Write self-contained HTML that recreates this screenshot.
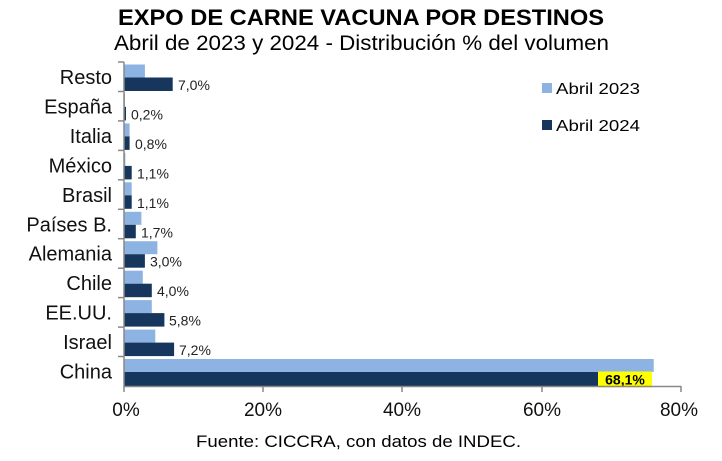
<!DOCTYPE html>
<html><head><meta charset="utf-8"><style>body{margin:0;background:#fff}svg{display:block}</style></head><body>
<svg width="722" height="461" xmlns="http://www.w3.org/2000/svg" font-family="Liberation Sans, Arial, sans-serif">
<text x="118" y="25" font-size="22" font-weight="bold" textLength="486" lengthAdjust="spacingAndGlyphs">EXPO DE CARNE VACUNA POR DESTINOS</text>
<text x="114" y="50" font-size="21" textLength="495" lengthAdjust="spacingAndGlyphs">Abril de 2023 y 2024 - Distribución % del volumen</text>

<g fill="#8db3e2">
<rect x="124" y="64.5" width="20.9" height="13"/>
<rect x="124" y="93.9" width="1" height="13"/>
<rect x="124" y="123.4" width="5.6" height="13"/>
<rect x="124" y="152.9" width="1.4" height="13"/>
<rect x="124" y="182.3" width="7.7" height="13"/>
<rect x="124" y="211.8" width="17.4" height="13"/>
<rect x="124" y="241.2" width="33.4" height="13"/>
<rect x="124" y="270.7" width="18.8" height="13"/>
<rect x="124" y="300.1" width="27.8" height="13"/>
<rect x="124" y="329.6" width="31.3" height="13"/>
<rect x="124" y="359" width="529.7" height="13"/>
</g>
<g fill="#17365d">
<rect x="124" y="77.5" width="48.7" height="13.5"/>
<rect x="124" y="106.9" width="2" height="13.5"/>
<rect x="124" y="136.4" width="5.6" height="13.5"/>
<rect x="124" y="165.9" width="7.7" height="13.5"/>
<rect x="124" y="195.3" width="7.7" height="13.5"/>
<rect x="124" y="224.8" width="11.8" height="13.5"/>
<rect x="124" y="254.2" width="20.9" height="13.5"/>
<rect x="124" y="283.7" width="27.8" height="13.5"/>
<rect x="124" y="313.1" width="40.4" height="13.5"/>
<rect x="124" y="342.6" width="50.1" height="13.5"/>
<rect x="124" y="372" width="474" height="14"/>
</g>
<g font-size="14" fill="#222">
<text x="178" y="90">7,0%</text>
<text x="131" y="119.5">0,2%</text>
<text x="135" y="149">0,8%</text>
<text x="137" y="178.4">1,1%</text>
<text x="137" y="207.8">1,1%</text>
<text x="141" y="237.3">1,7%</text>
<text x="150" y="266.7">3,0%</text>
<text x="157" y="296.2">4,0%</text>
<text x="169" y="325.6">5,8%</text>
<text x="179" y="355.1">7,2%</text>
</g>
<rect x="598" y="371.5" width="54" height="16" fill="#ffff00"/>
<text x="625" y="384.5" text-anchor="middle" font-size="14" font-weight="bold">68,1%</text>

<g font-size="20" text-anchor="end" fill="#111">
<text x="112" y="84">Resto</text>
<text x="112" y="113.5">España</text>
<text x="112" y="143">Italia</text>
<text x="112" y="172.4">México</text>
<text x="112" y="201.8">Brasil</text>
<text x="112" y="231.3">Países B.</text>
<text x="112" y="260.7">Alemania</text>
<text x="112" y="290.2">Chile</text>
<text x="112" y="319.6">EE.UU.</text>
<text x="112" y="349.1">Israel</text>
<text x="112" y="378.5">China</text>
</g>
<g stroke="#888" stroke-width="1.5">
<line x1="124" y1="62" x2="124" y2="387"/>
<line x1="124" y1="386.5" x2="681" y2="386.5"/>
<line x1="118" y1="62" x2="124" y2="62"/><line x1="118" y1="91.5" x2="124" y2="91.5"/><line x1="118" y1="120.9" x2="124" y2="120.9"/><line x1="118" y1="150.4" x2="124" y2="150.4"/><line x1="118" y1="179.8" x2="124" y2="179.8"/><line x1="118" y1="209.3" x2="124" y2="209.3"/><line x1="118" y1="238.7" x2="124" y2="238.7"/><line x1="118" y1="268.2" x2="124" y2="268.2"/><line x1="118" y1="297.6" x2="124" y2="297.6"/><line x1="118" y1="327.1" x2="124" y2="327.1"/><line x1="118" y1="356.5" x2="124" y2="356.5"/>
<line x1="124" y1="386" x2="124" y2="392"/><line x1="263" y1="386" x2="263" y2="392"/><line x1="402" y1="386" x2="402" y2="392"/><line x1="542" y1="386" x2="542" y2="392"/><line x1="681" y1="386" x2="681" y2="392"/>
</g>
<g font-size="19" text-anchor="middle" fill="#111">
<text x="126" y="416">0%</text><text x="263" y="416">20%</text><text x="402" y="416">40%</text><text x="542" y="416">60%</text><text x="679" y="416">80%</text>
</g>
<text x="196" y="447" font-size="17" textLength="325" lengthAdjust="spacingAndGlyphs">Fuente: CICCRA, con datos de INDEC.</text>
<rect x="542" y="83" width="10" height="10" fill="#8db3e2"/>
<text x="556" y="94" font-size="16" textLength="84" lengthAdjust="spacingAndGlyphs">Abril 2023</text>
<rect x="542" y="120" width="10" height="10" fill="#17365d"/>
<text x="556" y="131" font-size="16" textLength="84" lengthAdjust="spacingAndGlyphs">Abril 2024</text>
</svg>
</body></html>
